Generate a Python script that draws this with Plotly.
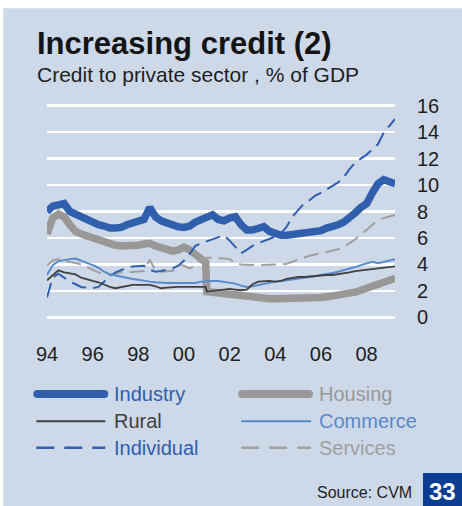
import plotly.graph_objects as go

# ---------------- data ----------------
quarters = [1994 + 0.25 * i for i in range(62)]          # 1994.00 ... 2009.25
# Housing and Rural have an extra point just before the early-2001 break
quarters_break = quarters[:28] + [2000.95] + quarters[28:]

industry = [8.0, 8.4, 8.5, 8.6,
            8.0, 7.8, 7.5, 7.35,
            7.1, 7.0, 6.9, 6.75,
            6.75, 6.8, 7.0, 7.1,
            7.3, 7.4, 8.3, 7.6,
            7.3, 7.1, 6.95, 6.85,
            6.8, 6.9, 7.2, 7.4,
            7.6, 7.75, 7.4, 7.3,
            7.5, 7.6, 7.0, 6.6,
            6.6, 6.8, 6.85, 6.5,
            6.3, 6.2, 6.2, 6.25,
            6.3, 6.35, 6.45, 6.5,
            6.55, 6.75, 6.85, 7.0,
            7.2, 7.5, 7.9, 8.3,
            8.6, 9.4, 10.1, 10.4,
            10.3, 10.1]

housing = [6.3, 7.5, 7.8, 7.6,
           7.0, 6.5, 6.3, 6.15,
           6.0, 5.85, 5.7, 5.55,
           5.45, 5.4, 5.4, 5.35,
           5.45, 5.55, 5.6, 5.4,
           5.3, 5.15, 5.0, 5.1,
           5.3, 5.1, 4.8, 4.4,
           4.15,
           1.95, 1.9, 1.85, 1.8,
           1.75, 1.65, 1.55, 1.5,
           1.5, 1.45, 1.4, 1.4,
           1.4, 1.4, 1.4, 1.4,
           1.4, 1.4, 1.45, 1.45,
           1.5, 1.55, 1.6, 1.65,
           1.7, 1.8, 1.9, 2.05,
           2.2, 2.35, 2.5, 2.65,
           2.8, 2.95]

rural = [2.8, 3.2, 3.55, 3.4,
         3.3, 3.25, 3.0, 2.85,
         2.75, 2.65, 2.45, 2.3,
         2.2, 2.3, 2.4, 2.45,
         2.45, 2.45, 2.45, 2.35,
         2.2, 2.25, 2.3, 2.3,
         2.3, 2.3, 2.3, 2.3,
         2.3,
         1.95, 2.0, 2.1, 2.15,
         2.15, 2.1, 2.05, 2.1,
         2.5, 2.7, 2.75, 2.75,
         2.7, 2.75, 2.9, 3.0,
         3.05, 3.05, 3.1, 3.15,
         3.2, 3.2, 3.2, 3.25,
         3.3, 3.4, 3.5, 3.55,
         3.6, 3.65, 3.75, 3.8,
         3.8, 3.85]

commerce = [3.2, 3.95, 4.25, 4.35,
            4.4, 4.45, 4.3, 4.15,
            3.95, 3.75, 3.45, 3.25,
            3.15, 3.05, 2.95, 2.9,
            2.85, 2.75, 2.7, 2.65,
            2.6, 2.6, 2.6, 2.6,
            2.6, 2.55, 2.6, 2.7,
            2.75, 2.75, 2.75, 2.7,
            2.65, 2.55, 2.4, 2.3,
            2.35, 2.45, 2.55, 2.6,
            2.7, 2.75, 2.8, 2.85,
            2.95, 3.0, 3.05, 3.1,
            3.2, 3.25, 3.35, 3.45,
            3.55, 3.65, 3.8, 3.95,
            4.05, 4.2, 4.1, 4.2,
            4.3, 4.4]

individual = [1.5, 3.0, 3.3, 3.0,
              2.7, 2.5, 2.3, 2.25,
              2.2, 2.3, 2.7, 3.1,
              3.4, 3.6, 3.75, 3.85,
              3.9, 3.9, 3.6, 3.45,
              3.5, 3.6, 3.7, 3.9,
              4.3, 4.8, 5.4, 5.6,
              5.75, 5.9, 6.0, 6.2,
              5.8, 5.3, 4.85, 5.1,
              5.4, 5.6, 5.75, 5.9,
              6.1, 6.35, 6.85, 7.6,
              8.1, 8.6, 8.85, 9.2,
              9.4, 9.65, 9.9, 10.2,
              10.6, 11.2, 11.7, 12.0,
              12.3, 12.7, 13.1, 13.95,
              14.5, 15.0]

services = [3.9, 4.3, 4.4, 4.2,
            4.2, 4.1, 4.0, 3.8,
            3.6, 3.4, 3.3, 3.2,
            3.3, 3.4, 3.4, 3.45,
            3.45, 3.5, 4.35, 3.55,
            3.45, 3.5, 3.5, 4.0,
            3.9, 3.7, 3.9, 4.4,
            4.5, 4.5, 4.5, 4.45,
            4.4, 4.1, 4.0, 3.95,
            3.95, 3.95, 3.95, 3.95,
            3.95, 4.0, 4.05, 4.2,
            4.4, 4.55, 4.65, 4.75,
            4.85, 4.9, 5.0, 5.15,
            5.3, 5.6, 5.9, 6.3,
            6.6, 7.0, 7.35, 7.5,
            7.6, 7.75]

x_tickvals = [1994, 1996, 1998, 2000, 2002, 2004, 2006, 2008]
x_ticktext = ["94", "96", "98", "00", "02", "04", "06", "08"]
y_tickvals = [0, 2, 4, 6, 8, 10, 12, 14, 16]

# ---------------- styles ----------------
BLUE = "#2f5fad"
GREY = "#9a9897"
DARK = "#404040"
LBLUE = "#5a89cc"
LGREY = "#a0a0a0"
BG = "#cdd8e8"
FONT = "Liberation Sans, Arial, sans-serif"
DASH = "15px,7px"

W_FIG, H_FIG = 462, 506
L, R_EDGE = 46.7, 395.0
T, B_EDGE = 103.4, 319.6
PW, PH = R_EDGE - L, B_EDGE - T


def fx(px):
    return (px - L) / PW


def fy(py):
    return 1 - (py - T) / PH


fig = go.Figure()

series = [
    ("Housing", quarters_break, housing, GREY, 7.5, "solid"),
    ("Industry", quarters, industry, BLUE, 7.5, "solid"),
    ("Services", quarters, services, LGREY, 2, DASH),
    ("Individual", quarters, individual, BLUE, 2, DASH),
    ("Commerce", quarters, commerce, LBLUE, 2, "solid"),
    ("Rural", quarters_break, rural, DARK, 1.8, "solid"),
]
for name, xs, ys, col, w, dash in series:
    fig.add_trace(go.Scatter(x=xs, y=ys, mode="lines", name=name,
                             line=dict(color=col, width=w, dash=dash),
                             showlegend=False, hoverinfo="skip"))

shapes = [
    dict(type="rect", xref="paper", yref="paper", layer="below",
         x0=fx(3), x1=fx(470), y0=fy(9), y1=fy(515),
         fillcolor=BG, line=dict(width=0)),
    dict(type="rect", xref="paper", yref="paper",
         x0=fx(423), x1=fx(470), y0=fy(472), y1=fy(515),
         fillcolor="#0a3c91", line=dict(width=0)),
]

annotations = [
    dict(text="<b>Increasing credit (2)</b>", x=fx(35), y=fy(44),
         font=dict(size=31, color="#141414", family=FONT)),
    dict(text="Credit to private sector , % of GDP", x=fx(35), y=fy(75),
         font=dict(size=21, color="#1e1e1e", family=FONT)),
    dict(text="Source: CVM", x=fx(414), y=fy(491), xanchor="right",
         font=dict(size=16, color="#1e1e1e", family=FONT)),
    dict(text="<b>33</b>", x=fx(442.5), y=fy(490), xanchor="center",
         font=dict(size=24, color="white", family=FONT)),
]
for a in annotations:
    a.setdefault("xanchor", "left")
    a.update(xref="paper", yref="paper", yanchor="middle", showarrow=False)

# legend drawn by hand to match the two-column layout
legend_items = [
    ("Industry", BLUE, BLUE, 8, "solid", 33, 108, 393.3, 112),
    ("Housing", GREY, GREY, 8, "solid", 238, 313, 393.3, 317),
    ("Rural", DARK, DARK, 2, "solid", 36, 105, 420.5, 112),
    ("Commerce", LBLUE, LBLUE, 2, "solid", 241, 311, 420.5, 317),
    ("Individual", BLUE, BLUE, 2.5, "18px,10px", 36, 105, 447, 112),
    ("Services", LGREY, LGREY, 2.5, "18px,10px", 241, 311, 447, 317),
]
for name, lcol, tcol, w, dash, x0, x1, yy, tx in legend_items:
    if w >= 6:
        shapes.append(dict(type="line", xref="paper", yref="paper",
                           x0=fx(x0 + w / 2), x1=fx(x1 - w / 2), y0=fy(yy), y1=fy(yy),
                           line=dict(color=lcol, width=w)))
        for cx in (x0 + w / 2, x1 - w / 2):
            shapes.append(dict(type="circle", xref="paper", yref="paper",
                               x0=fx(cx - w / 2), x1=fx(cx + w / 2),
                               y0=fy(yy - w / 2), y1=fy(yy + w / 2),
                               fillcolor=lcol, line=dict(width=0)))
    else:
        shapes.append(dict(type="line", xref="paper", yref="paper",
                           x0=fx(x0), x1=fx(x1), y0=fy(yy), y1=fy(yy),
                           line=dict(color=lcol, width=w, dash=dash)))
    annotations.append(dict(text=name, xref="paper", yref="paper",
                            x=fx(tx), y=fy(yy), xanchor="left", yanchor="middle",
                            showarrow=False,
                            font=dict(size=20, color=tcol, family=FONT)))

fig.update_layout(
    width=W_FIG, height=H_FIG,
    margin=dict(l=L, r=W_FIG - R_EDGE, t=T, b=H_FIG - B_EDGE, pad=0),
    paper_bgcolor="white", plot_bgcolor="rgba(0,0,0,0)",
    shapes=shapes, annotations=annotations,
    showlegend=False,
    xaxis=dict(range=[1994, 2009.243], tickvals=x_tickvals, ticktext=x_ticktext,
               showgrid=False, zeroline=False, showline=False, ticks="",
               ticklabelstandoff=20,
               tickfont=dict(size=20, color="#1e1e1e", family=FONT)),
    yaxis=dict(range=[-0.2, 16.2], tickvals=y_tickvals, side="right",
               showgrid=True, gridcolor="white", gridwidth=2.5,
               zeroline=False, showline=False, ticks="",
               ticklabelstandoff=21,
               tickfont=dict(size=20, color="#1e1e1e", family=FONT)),
)

fig.write_html(
    "out.html",
    config={"displayModeBar": False, "staticPlot": True},
    post_script="document.body.style.margin='0';document.body.style.overflow='hidden';",
)
